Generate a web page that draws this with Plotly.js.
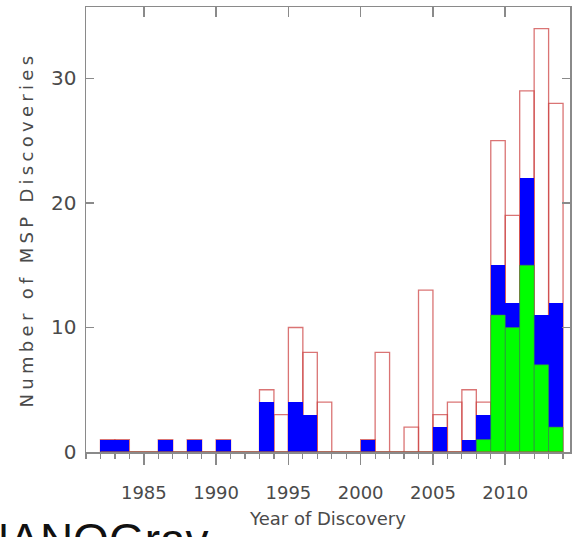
<!DOCTYPE html>
<html>
<head>
<meta charset="utf-8">
<script src="https://cdn.plot.ly/plotly-3.0.1.min.js"></script>
<style>
html,body{margin:0;padding:0;background:#fff;}
#chart{width:579px;height:537px;}
.ytitle{letter-spacing:4.3px;}
</style>
</head>
<body>
<div id="chart"></div>
<script>
// Year of discovery (each bar spans year .. year+1)
const years = [1982,1983,1984,1985,1986,1987,1988,1989,1990,1991,1992,1993,1994,1995,1996,1997,1998,1999,2000,2001,2002,2003,2004,2005,2006,2007,2008,2009,2010,2011,2012,2013];
// All MSP discoveries (red outline)
const totalMSP = [1,1,0,0,1,0,1,0,1,0,0,5,3,10,8,4,0,0,1,8,0,2,13,3,4,5,4,25,19,29,34,28];
// Blue series
const blueMSP  = [1,1,0,0,1,0,1,0,1,0,0,4,0,4,3,0,0,0,1,0,0,0,0,2,0,1,3,15,12,22,11,12];
// Green series
const greenMSP = [0,0,0,0,0,0,0,0,0,0,0,0,0,0,0,0,0,0,0,0,0,0,0,0,0,0,1,11,10,15,7,2];
const xTickVals = [1985,1990,1995,2000,2005,2010];
const xTickText = ['1985','1990','1995','2000','2005','2010'];
const yTickVals = [0,10,20,30];
const yTickText = ['0','10','20','30'];

const baseX = [years[0], years[years.length-1] + 1];
const baseY = [0, 0];

const axisGray = '#8a8a8a';
const textGray = '#4a4a4a';

const traces = [
  {type:'bar', x: years, y: totalMSP, offset: 0, width: 1,
   marker:{color:'rgba(0,0,0,0)', line:{color:'rgba(205,70,70,0.75)', width:1.3}},
   hoverinfo:'skip', showlegend:false},
  {type:'bar', x: years, y: blueMSP, offset: 0, width: 1,
   marker:{color:'#0000ff', line:{color:'#0000ff', width:0}},
   hoverinfo:'skip', showlegend:false},
  {type:'bar', x: years, y: greenMSP, offset: 0, width: 1,
   marker:{color:'#00ff00', line:{color:'rgba(70,130,70,0.7)', width:0.8}},
   hoverinfo:'skip', showlegend:false},
  {type:'scatter', mode:'lines', x: baseX, y: baseY, xaxis:'x2', yaxis:'y',
   line:{color:'rgba(205,70,70,0.6)', width:1.3}, cliponaxis:false,
   hoverinfo:'skip', showlegend:false}
];

const layout = {
  width: 579, height: 537,
  margin: {l: 86, r: 9, t: 7, b: 85},
  paper_bgcolor: '#ffffff', plot_bgcolor: '#ffffff',
  barmode: 'overlay',
  bargap: 0,
  showlegend: false,
  font: {family: 'DejaVu Sans', color: textGray},
  xaxis: {
    range: [1981, 2014.48],
    tickmode: 'array', tickvals: xTickVals, ticktext: xTickText,
    ticks: 'outside', ticklen: 11, tickwidth: 1.5, tickcolor: axisGray,
    minor: {dtick: 1, tick0: 1981, ticks: 'outside', ticklen: 5, tickwidth: 1.2, tickcolor: axisGray, showgrid:false},
    showline: true, linecolor: axisGray, linewidth: 1.5, mirror: true,
    showgrid: false, zeroline: false,
    tickfont: {family: 'DejaVu Sans', size: 18, color: textGray},
    ticklabelstandoff: 13,
    title: {text: 'Year of Discovery', font: {family: 'DejaVu Sans', size: 18, color: textGray}, standoff: 10},
    automargin: false
  },
  xaxis2: {
    overlaying: 'x', side: 'top', anchor: 'y',
    range: [1981, 2014.48],
    tickmode: 'array', tickvals: xTickVals,
    ticks: 'inside', ticklen: 10, tickwidth: 1.5, tickcolor: axisGray,
    showticklabels: false, showline: false, showgrid: false, zeroline: false
  },
  yaxis: {
    range: [0, 35.74],
    tickmode: 'array', tickvals: yTickVals, ticktext: yTickText,
    ticks: 'inside', ticklen: 8, tickwidth: 1.5, tickcolor: axisGray,
    showline: true, linecolor: axisGray, linewidth: 1.5, mirror: 'ticks',
    showgrid: false, zeroline: false,
    tickfont: {family: 'DejaVu Sans', size: 20, color: textGray},
    ticklabelstandoff: 4,
    title: {text: 'Number of MSP Discoveries', font: {family: 'DejaVu Sans', size: 18, color: textGray}, standoff: 12},
    automargin: false
  },
  annotations: [
    {text: 'NANOGrav', xref: 'paper', yref: 'paper', x: -0.2314, y: -0.1348,
     xanchor: 'left', yanchor: 'top', showarrow: false,
     font: {family: 'Liberation Sans', size: 46, color: '#111111'}}
  ]
};

Plotly.newPlot('chart', traces, layout, {staticPlot: true, displayModeBar: false});
</script>
</body>
</html>
